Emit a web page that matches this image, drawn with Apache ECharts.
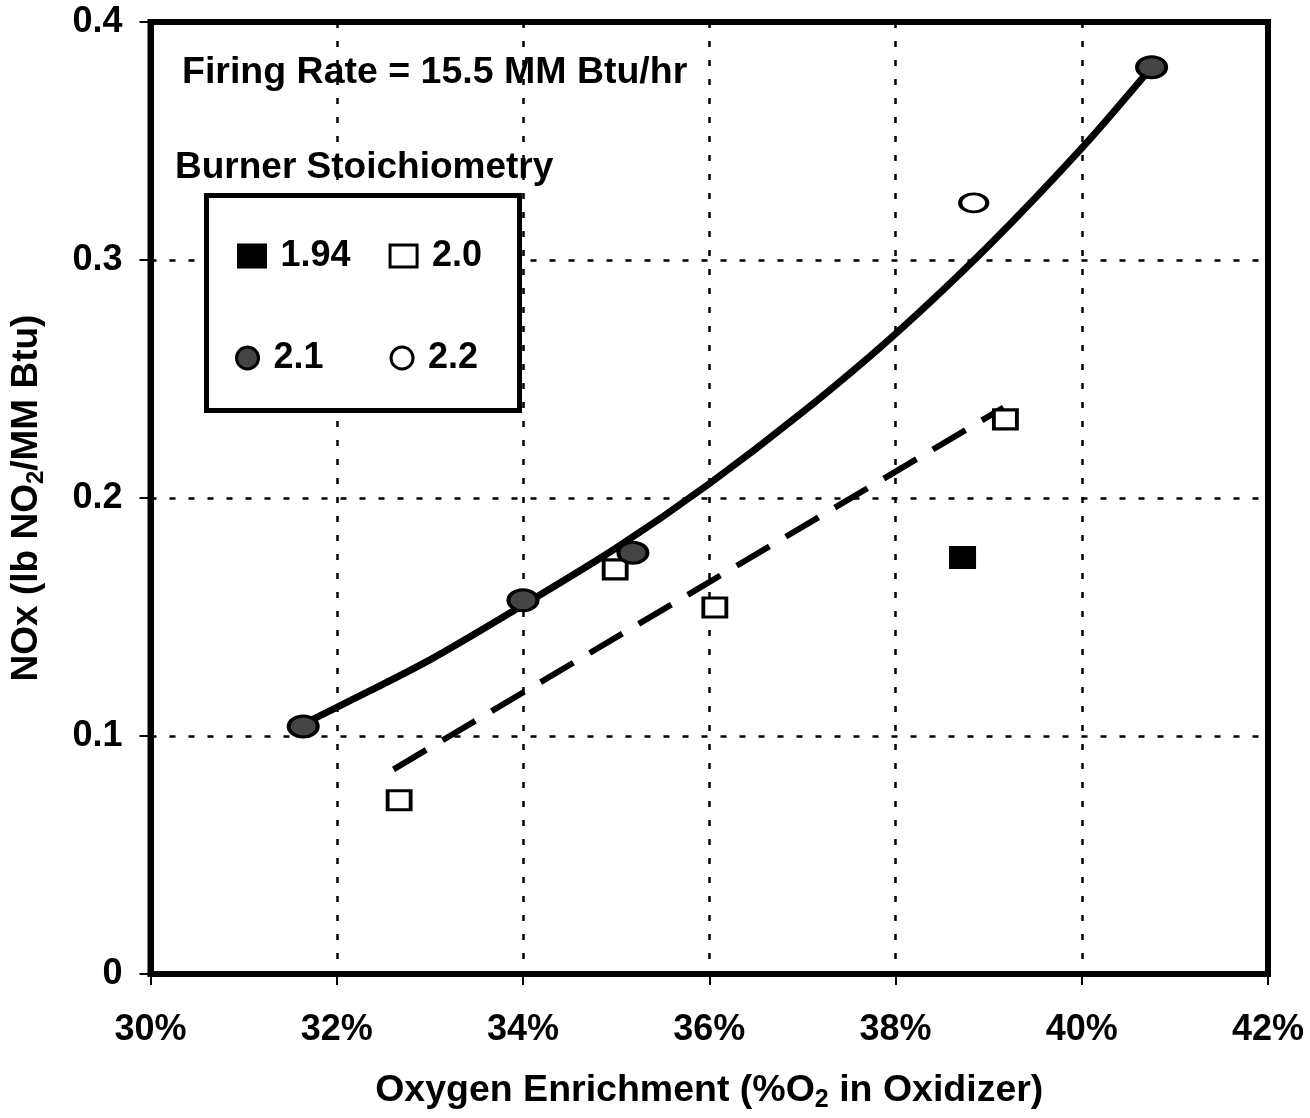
<!DOCTYPE html>
<html>
<head>
<meta charset="utf-8">
<script src="https://cdn.jsdelivr.net/npm/echarts@6/dist/echarts.min.js"></script>
<style>
html,body{margin:0;padding:0;background:#fff;overflow:hidden;}
#chart{width:1310px;height:1118px;}
</style>
</head>
<body>
<div id="chart"></div>
<script>
// ---- data ----
const s194X = [38.72];
const s194Y = [0.175];
const s20X = [32.67, 34.99, 36.06, 39.18];
const s20Y = [0.073, 0.170, 0.154, 0.233];
const s21X = [31.64, 34.00, 35.18, 40.75];
const s21Y = [0.104, 0.157, 0.177, 0.381];
const s22X = [38.84];
const s22Y = [0.324];
// trend curve (2.1)
const fitX = [31.64, 32, 33, 34, 35, 36, 37, 38, 39, 40, 40.75];
const fitY = [0.105, 0.112, 0.132, 0.155, 0.179, 0.206, 0.236, 0.269, 0.306, 0.347, 0.381];
// dashed linear trend (2.0)
const linX = [32.61, 39.16];
const linY = [0.086, 0.238];
const seriesNames = ['1.94', '2.0', '2.1', '2.2'];
const xRange = [30, 42, 2];
const yRange = [0, 0.4, 0.1];
const titleText = 'Firing Rate = 15.5 MM Btu/hr';
const legendTitle = 'Burner Stoichiometry';

const zip = (xs, ys) => xs.map((x, i) => [x, ys[i]]);
const FONT = "'Liberation Sans', Arial, sans-serif";

const chart = echarts.init(document.getElementById('chart'), null, {renderer: 'canvas', width: 1310, height: 1118});
chart.setOption({
  backgroundColor: '#fff',
  animation: false,
  textStyle: {fontFamily: FONT, fontWeight: 'bold', color: '#000'},
  title: [
    {text: titleText, left: 182, top: 54, padding: 0,
     textStyle: {fontFamily: FONT, fontWeight: 'bold', fontSize: 37.5, color: '#000'}},
    {text: legendTitle, left: 175, top: 149, padding: 0,
     textStyle: {fontFamily: FONT, fontWeight: 'bold', fontSize: 37, color: '#000'}}
  ],
  grid: {left: 150, width: 1118, top: 22, height: 963, show: true,
         borderColor: '#000', borderWidth: 6, backgroundColor: 'transparent'},
  graphic: [{
    type: 'rect', z: 3,
    shape: {x: 206.5, y: 195.5, width: 313, height: 215},
    style: {fill: '#fff', stroke: '#000', lineWidth: 5}
  }],
  legend: [
    {data: [seriesNames[0], seriesNames[1]], left: 237, top: 238, padding: 0,
     orient: 'horizontal', itemGap: 38, itemWidth: 27, itemHeight: 22,
     symbolKeepAspect: false, z: 5,
     itemStyle: {borderWidth: 3},
     textStyle: {fontFamily: FONT, fontWeight: 'bold', fontSize: 36, color: '#000', padding: [0, 0, 0, 10]}},
    {data: [seriesNames[2], seriesNames[3]], left: 235, top: 340, padding: 0,
     orient: 'horizontal', itemGap: 66, itemWidth: 30, itemHeight: 22,
     symbolKeepAspect: false, z: 5,
     itemStyle: {borderWidth: 3},
     textStyle: {fontFamily: FONT, fontWeight: 'bold', fontSize: 36, color: '#000', padding: [0, 0, 0, 6]}}
  ],
  xAxis: {
    type: 'value', min: xRange[0], max: xRange[1], interval: xRange[2],
    name: 'Oxygen Enrichment (%O{sub|2} in Oxidizer)',
    nameLocation: 'middle', nameGap: 94,
    nameTextStyle: {fontFamily: FONT, fontWeight: 'bold', fontSize: 37.5, color: '#000',
      rich: {sub: {fontFamily: FONT, fontWeight: 'bold', fontSize: 25, color: '#000', padding: [20, 0, 0, 0]}}},
    axisLine: {show: true, onZero: false, lineStyle: {color: '#000', width: 6}},
    axisTick: {show: true, inside: false, length: 11, lineStyle: {color: '#000', width: 2}},
    axisLabel: {margin: 38, fontFamily: FONT, fontWeight: 'bold', fontSize: 36, color: '#000',
      formatter: v => v + '%'},
    splitLine: {show: true, lineStyle: {color: '#000', width: 2.5, type: [6, 13]}}
  },
  yAxis: {
    type: 'value', min: yRange[0], max: yRange[1], interval: yRange[2],
    name: 'NOx (lb NO{sub|2}/MM Btu)',
    nameLocation: 'middle', nameGap: 102,
    nameTextStyle: {fontFamily: FONT, fontWeight: 'bold', fontSize: 37, color: '#000',
      rich: {sub: {fontFamily: FONT, fontWeight: 'bold', fontSize: 24, color: '#000', padding: [20, 0, 0, 0]}}},
    axisLine: {show: true, onZero: false, lineStyle: {color: '#000', width: 6}},
    axisTick: {show: true, inside: false, length: 11, lineStyle: {color: '#000', width: 2}},
    axisLabel: {margin: 28, fontFamily: FONT, fontWeight: 'bold', fontSize: 36, color: '#000'},
    splitLine: {show: true, lineStyle: {color: '#000', width: 2.5, type: [6, 13]}}
  },
  series: [
    {name: 'fit21', type: 'line', data: zip(fitX, fitY), smooth: 0.3,
     showSymbol: false, symbol: 'none',
     lineStyle: {color: '#000', width: 7}, z: 2, silent: true},
    {name: 'fit20', type: 'line', data: zip(linX, linY), showSymbol: false, symbol: 'none',
     lineStyle: {color: '#000', width: 6, type: [38, 19]}, z: 2, silent: true},
    {name: seriesNames[0], type: 'scatter', data: zip(s194X, s194Y), symbol: 'rect', symbolSize: [27, 23],
     itemStyle: {color: '#000', borderColor: '#000', borderWidth: 0, opacity: 1}, z: 4},
    {name: seriesNames[1], type: 'scatter', data: zip(s20X, s20Y), symbol: 'rect', symbolSize: [23, 19],
     itemStyle: {color: '#fff', borderColor: '#000', borderWidth: 3.5, opacity: 1}, z: 4},
    {name: seriesNames[2], type: 'scatter', data: zip(s21X, s21Y), symbol: 'circle', symbolSize: [29, 21],
     itemStyle: {color: '#444', borderColor: '#000', borderWidth: 3.5, opacity: 1}, z: 4},
    {name: seriesNames[3], type: 'scatter', data: zip(s22X, s22Y), symbol: 'circle', symbolSize: [27, 18],
     itemStyle: {color: '#fff', borderColor: '#000', borderWidth: 3.5, opacity: 1}, z: 4}
  ]
});
</script>
</body>
</html>
